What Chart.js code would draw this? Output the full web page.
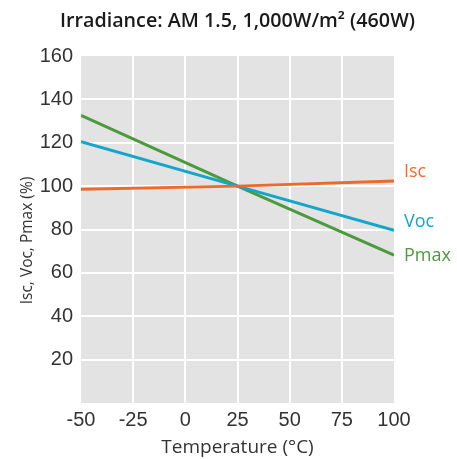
<!DOCTYPE html>
<html>
<head>
<meta charset="utf-8">
<script src="https://cdn.jsdelivr.net/npm/chart.js@4/dist/chart.umd.min.js"></script>
<style>
  html, body { margin: 0; padding: 0; background: #ffffff; }
  #wrap { width: 457px; height: 459px; }
</style>
</head>
<body>
<div id="wrap"><canvas id="c" width="457" height="459"></canvas></div>
<script>
const temperatures = [-50, 25, 100];
const iscValues  = [98.6, 100, 102.4];
const vocValues  = [120.5, 100, 79.6];
const pmaxValues = [132.6, 100, 68.2];
const seriesNames = ['Isc', 'Voc', 'Pmax'];
const xTicks = [-50, -25, 0, 25, 50, 75, 100];
const yTicks = [20, 40, 60, 80, 100, 120, 140, 160];
const chartTitle = 'Irradiance: AM 1.5, 1,000W/m² (460W)';
const yTitle = 'Isc, Voc, Pmax (%)';

const colors = { Isc: '#ee6a2a', Voc: '#12a6cb', Pmax: '#4b9a3b' };
const labelOffsets = { Isc: -9, Voc: -8, Pmax: 1 };

const bgPlugin = {
  id: 'plotBg',
  beforeDraw(chart) {
    const a = chart.chartArea, ctx = chart.ctx;
    ctx.save();
    ctx.fillStyle = '#e3e3e3';
    ctx.fillRect(a.left, a.top, a.right - a.left, a.bottom - a.top);
    ctx.restore();
  }
};

const titlesPlugin = {
  id: 'titles',
  afterDraw(chart) {
    const a = chart.chartArea, ctx = chart.ctx;
    ctx.save();
    ctx.font = '600 19.7px "Open Sans"';
    ctx.fillStyle = '#1a1a1a';
    ctx.textAlign = 'center';
    ctx.textBaseline = 'middle';
    ctx.fillText(chartTitle, (a.left + a.right) / 2, 21);
    ctx.restore();

    ctx.save();
    ctx.translate(28, (a.top + a.bottom) / 2 + 11);
    ctx.rotate(-Math.PI / 2);
    ctx.font = '15.5px "Open Sans"';
    ctx.fillStyle = '#333333';
    ctx.textAlign = 'center';
    ctx.textBaseline = 'middle';
    ctx.fillText(yTitle, 0, 0);
    ctx.restore();
  }
};

const endLabels = {
  id: 'endLabels',
  afterDatasetsDraw(chart) {
    const ctx = chart.ctx;
    const xs = chart.scales.x, ys = chart.scales.y;
    ctx.save();
    ctx.font = '18px "Open Sans"';
    ctx.textBaseline = 'middle';
    ctx.textAlign = 'left';
    chart.data.datasets.forEach(ds => {
      const last = ds.data[ds.data.length - 1];
      const px = xs.getPixelForValue(last.x) + 10;
      const py = ys.getPixelForValue(last.y) + labelOffsets[ds.label];
      ctx.fillStyle = colors[ds.label];
      ctx.fillText(ds.label, px, py);
    });
    ctx.restore();
  }
};

const allValues = { Isc: iscValues, Voc: vocValues, Pmax: pmaxValues };
const datasets = seriesNames.map(name => ({
  label: name,
  data: temperatures.map((t, i) => ({ x: t, y: allValues[name][i] })),
  borderColor: colors[name],
  backgroundColor: colors[name],
  borderWidth: 3,
  pointRadius: 0,
  tension: 0,
  fill: false
}));

new Chart(document.getElementById('c'), {
  type: 'line',
  data: { datasets },
  options: {
    responsive: false,
    animation: false,
    layout: { padding: { left: 0, right: 63, top: 56, bottom: 0 } },
    plugins: {
      legend: { display: false },
      tooltip: { enabled: false },
      title: { display: false }
    },
    scales: {
      x: {
        type: 'linear',
        min: -50, max: 100,
        afterBuildTicks(s) { s.ticks = xTicks.map(v => ({ value: v })); },
        afterFit(s) { s.height = 56; },
        border: { display: false },
        grid: {
          color: ctx => (ctx.tick && (ctx.tick.value === -50 || ctx.tick.value === 100)) ? 'rgba(0,0,0,0)' : '#ffffff',
          lineWidth: 2,
          drawTicks: false
        },
        ticks: {
          color: '#333333',
          font: { family: '"Liberation Sans", Arial', size: 20 },
          padding: 5,
          maxRotation: 0
        },
        title: {
          display: true,
          text: 'Temperature (°C)',
          color: '#333333',
          font: { family: '"Open Sans"', size: 19 },
          padding: { top: 0, bottom: 0 }
        }
      },
      y: {
        type: 'linear',
        min: 0, max: 160,
        afterBuildTicks(s) { s.ticks = yTicks.map(v => ({ value: v })); },
        afterFit(s) { s.width = 81; },
        border: { display: false },
        grid: {
          color: ctx => (ctx.tick && ctx.tick.value === 160) ? 'rgba(0,0,0,0)' : '#ffffff',
          lineWidth: 2,
          drawTicks: false
        },
        ticks: {
          color: '#333333',
          font: { family: '"Liberation Sans", Arial', size: 20 },
          padding: 8
        },
        title: { display: false }
      }
    }
  },
  plugins: [bgPlugin, titlesPlugin, endLabels]
});
</script>
</body>
</html>
